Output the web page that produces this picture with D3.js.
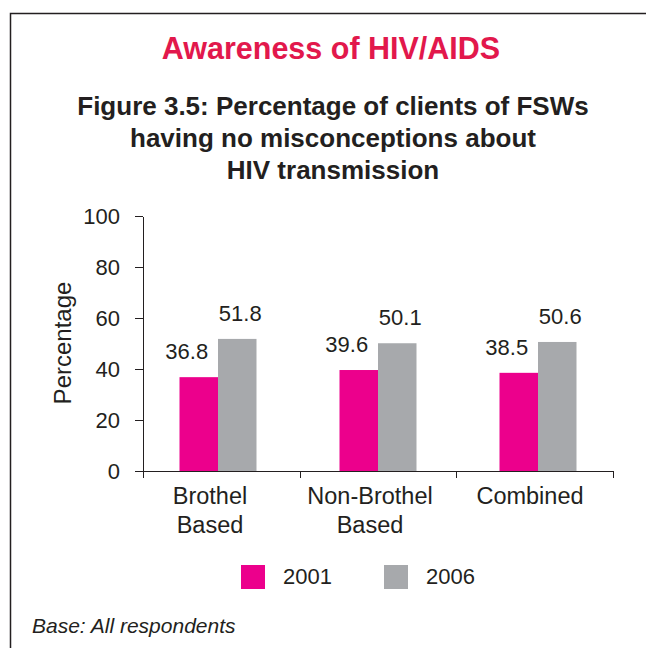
<!DOCTYPE html>
<html>
<head>
<meta charset="utf-8">
<script src="https://cdn.jsdelivr.net/npm/d3@7"></script>
<style>
    html, body { margin: 0; padding: 0; background: #fff; }
    svg { display: block; font-family: "Liberation Sans", Arial, sans-serif; }
    .axis path, .axis line { stroke: #231f20; stroke-width: 1.3; shape-rendering: crispEdges; }
    .axis text { font-size: 22px; fill: #231f20; }
</style>
</head>
<body>
<svg id="chart" width="646" height="648"></svg>
<script>
// --- data ---
const categories = [["Brothel", "Based"], ["Non-Brothel", "Based"], ["Combined"]];
const years = ["2001", "2006"];
const values2001 = [36.8, 39.6, 38.5];
const values2006 = [51.8, 50.1, 50.6];
const yTicks = [0, 20, 40, 60, 80, 100];
const COLORS = ["#ec008c", "#a7a9ac"];

const svg = d3.select("#chart");
const W = 646, H = 648;

// frame (cut off at right and bottom in the source)
svg.append("path")
    .attr("d", `M10.5,${H} V13.5 H${W}`)
    .attr("fill", "none")
    .attr("stroke", "#231f20")
    .attr("stroke-width", 1.5);

// titles
svg.append("text")
    .attr("x", 331).attr("y", 59)
    .attr("text-anchor", "middle")
    .style("font-size", "30.5px").style("font-weight", "bold")
    .attr("fill", "#e2184c")
    .text("Awareness of HIV/AIDS");

const subtitle = ["Figure 3.5: Percentage of clients of FSWs", "having no misconceptions about", "HIV transmission"];
svg.append("g").selectAll("text").data(subtitle).join("text")
    .attr("x", 333).attr("y", (d, i) => 115 + i * 32)
    .attr("text-anchor", "middle")
    .style("font-size", "26px").style("font-weight", "bold")
    .attr("fill", "#231f20")
    .text(d => d);

// scales
const y = d3.scaleLinear().domain([0, 100]).range([471, 216]);
const xAxisScale = d3.scaleLinear().domain([0, categories.length]).range([143, 613]);
const xGroup = d3.scaleBand().domain(d3.range(categories.length)).range([138, 618]);
const xYear = d3.scaleBand().domain(years).range([0, 77]);

// y axis
svg.append("g").attr("class", "axis")
    .attr("transform", "translate(143,0)")
    .call(d3.axisLeft(y).tickValues(yTicks).tickSize(8).tickSizeOuter(0).tickPadding(15));

// x axis with ticks at category boundaries
svg.append("g").attr("class", "axis")
    .attr("transform", "translate(0,471)")
    .call(d3.axisBottom(xAxisScale).tickValues(d3.range(categories.length + 1)).tickFormat("").tickSize(7).tickSizeOuter(0));

// y label
svg.append("text")
    .attr("transform", "translate(71,343) rotate(-90)")
    .attr("text-anchor", "middle")
    .style("font-size", "24px")
    .attr("fill", "#231f20")
    .text("Percentage");

// bars
const series = [values2001, values2006];
const rows = [];
series.forEach((vals, s) => vals.forEach((v, i) => rows.push({i, s, v})));

const groupX = i => xGroup(i) + xGroup.bandwidth() / 2 - xYear.range()[1] / 2;

svg.append("g").selectAll("rect").data(rows).join("rect")
    .attr("x", d => groupX(d.i) + xYear(years[d.s]))
    .attr("width", xYear.bandwidth())
    .attr("y", d => y(d.v))
    .attr("height", d => y(0) - y(d.v))
    .attr("fill", d => COLORS[d.s]);

// value labels (2001 labels sit a bit to the left in the source)
svg.append("g").selectAll("text").data(rows).join("text")
    .attr("x", d => groupX(d.i) + xYear(years[d.s]) + xYear.bandwidth() / 2 + (d.s === 0 ? -12 : 3))
    .attr("y", d => y(d.v) - 18)
    .attr("text-anchor", "middle")
    .style("font-size", "22px")
    .attr("fill", "#231f20")
    .text(d => d.v.toFixed(1));

// category labels
const catG = svg.append("g").selectAll("text").data(categories).join("text")
    .attr("text-anchor", "middle")
    .style("font-size", "23.5px")
    .attr("fill", "#231f20");
catG.selectAll("tspan").data((d, i) => d.map(t => ({t, i}))).join("tspan")
    .attr("x", d => xGroup(d.i) + xGroup.bandwidth() / 2 - 8)
    .attr("y", (d, j) => 504 + j * 29)
    .text(d => d.t);

// legend
const legend = svg.append("g").selectAll("g").data(years).join("g")
    .attr("transform", (d, i) => `translate(${241 + i * 143},565)`);
legend.append("rect")
    .attr("width", 24).attr("height", 24)
    .attr("fill", (d, i) => COLORS[i]);
legend.append("text")
    .attr("x", 42).attr("y", 19)
    .style("font-size", "22px")
    .attr("fill", "#231f20")
    .text(d => d);

// footnote
svg.append("text")
    .attr("x", 32).attr("y", 633)
    .style("font-size", "21px").style("font-style", "italic")
    .attr("fill", "#231f20")
    .text("Base: All respondents");
</script>
</body>
</html>
